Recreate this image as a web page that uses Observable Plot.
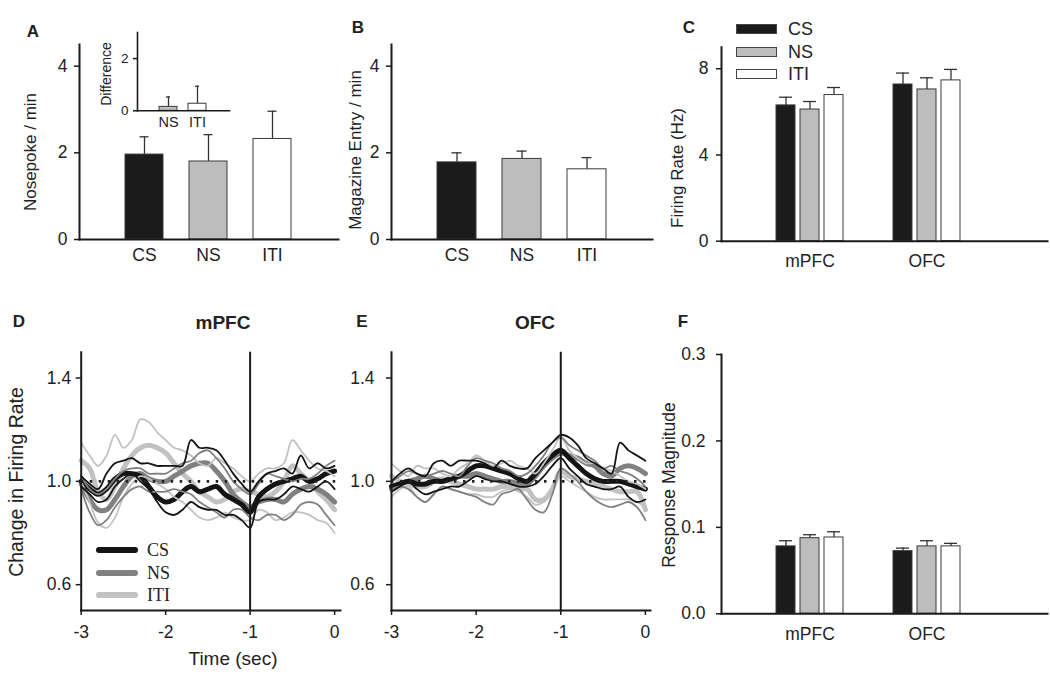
<!DOCTYPE html>
<html><head><meta charset="utf-8">
<script src="https://cdn.jsdelivr.net/npm/d3@7"></script>
<script src="https://cdn.jsdelivr.net/npm/@observablehq/plot@0.6"></script>
<style>
body{margin:0;background:#fff;}
#fig{position:relative;width:1050px;height:683px;overflow:hidden;font-family:"Liberation Sans",Arial,sans-serif;color:#222;background:#fff;}
.txt{position:absolute;white-space:nowrap;line-height:1;}
.pn{position:absolute;}
</style></head><body><div id="fig"></div>
<script>
// ---------- data ----------
const categories = ["CS", "NS", "ITI"];
const regions = ["mPFC", "OFC"];
// Panel A: nosepokes / min
const nosepokeMean = [1.96, 1.80, 2.32];
const nosepokeSem  = [0.41, 0.62, 0.64];
// Panel A inset: difference
const diffCats = ["NS", "ITI"];
const diffMean = [0.15, 0.27];
const diffSem  = [0.38, 0.67];
// Panel B: magazine entries / min
const magMean = [1.78, 1.86, 1.62];
const magSem  = [0.22, 0.18, 0.27];
// Panel C: firing rate (Hz) per region
const rateCS  = [6.30, 7.27], rateCSsem  = [0.38, 0.53];
const rateNS  = [6.11, 7.04], rateNSsem  = [0.37, 0.54];
const rateITI = [6.78, 7.46], rateITIsem = [0.35, 0.51];
// Panel F: response magnitude per region
const magnCS  = [0.078, 0.0725], magnCSsem  = [0.0065, 0.0035];
const magnNS  = [0.0875, 0.078], magnNSsem  = [0.0040, 0.0065];
const magnITI = [0.0883, 0.078], magnITIsem = [0.0066, 0.0035];
// Panels D/E: change in firing rate over time
const times = [-3.0,-2.9,-2.8,-2.7,-2.6,-2.5,-2.4,-2.3,-2.2,-2.1,-2.0,-1.9,-1.8,-1.7,-1.6,-1.5,-1.4,-1.3,-1.2,-1.1,-1.0,-0.9,-0.8,-0.7,-0.6,-0.5,-0.4,-0.3,-0.2,-0.1,0.0];
const mpfcCS      = [1.00,0.97,0.95,0.97,1.01,1.03,1.03,1.02,0.98,0.94,0.92,0.93,0.96,0.98,0.96,0.97,0.98,0.95,0.93,0.91,0.88,0.94,0.97,0.99,1.00,1.01,1.02,1.00,1.01,1.03,1.04];
const mpfcCSup    = [1.02,0.99,0.97,1.03,1.07,1.08,1.09,1.07,1.07,1.06,1.06,1.06,1.06,1.16,1.13,1.13,1.12,1.08,1.03,0.99,0.96,1.00,1.03,1.04,1.05,1.03,1.10,1.05,1.07,1.05,1.06];
const mpfcCSlo    = [0.98,0.95,0.92,0.93,0.98,1.01,1.03,1.00,0.97,0.92,0.88,0.87,0.89,0.92,0.90,0.89,0.89,0.87,0.87,0.85,0.82,0.92,0.93,0.93,0.95,0.98,0.97,0.96,0.98,1.00,0.97];
const mpfcNS      = [0.99,0.93,0.89,0.89,0.93,0.98,1.02,1.03,1.01,1.00,1.00,1.02,1.04,1.06,1.07,1.07,1.04,1.00,0.95,0.92,0.90,0.92,0.93,0.93,0.92,0.95,0.97,0.98,0.97,0.95,0.92];
const mpfcNSup    = [1.02,0.97,0.95,0.97,1.01,1.04,1.05,1.05,1.03,1.03,1.03,1.05,1.07,1.08,1.11,1.12,1.09,1.05,1.00,0.97,0.95,0.99,1.03,1.02,1.01,1.00,1.01,1.01,1.03,1.06,1.08];
const mpfcNSlo    = [0.97,0.88,0.83,0.85,0.90,0.94,0.97,0.98,0.96,0.96,0.96,0.97,0.96,0.95,0.92,0.90,0.88,0.86,0.89,0.89,0.86,0.85,0.87,0.87,0.85,0.87,0.91,0.92,0.91,0.87,0.83];
const mpfcITI     = [1.08,1.05,0.96,0.93,0.98,1.05,1.10,1.13,1.14,1.13,1.11,1.07,1.03,1.00,0.96,0.94,0.92,0.93,0.96,0.97,0.96,0.95,0.94,0.96,1.00,1.06,1.03,1.00,0.96,0.93,0.89];
const mpfcITIup   = [1.15,1.10,1.06,1.10,1.18,1.13,1.16,1.24,1.23,1.19,1.16,1.13,1.12,1.10,1.07,1.06,1.09,1.07,1.05,1.02,1.00,1.03,1.05,1.05,1.07,1.16,1.12,1.08,1.05,1.04,1.02];
const mpfcITIlo   = [1.00,0.92,0.84,0.82,0.86,0.94,0.99,1.02,1.01,0.99,0.97,0.94,0.92,0.89,0.86,0.85,0.86,0.88,0.86,0.85,0.85,0.89,0.88,0.85,0.86,0.88,0.88,0.87,0.85,0.84,0.80];
const ofcCS       = [0.98,0.99,1.00,0.99,0.99,1.00,1.00,1.01,1.02,1.04,1.06,1.06,1.05,1.04,1.03,1.01,1.00,1.03,1.07,1.10,1.12,1.09,1.06,1.03,1.01,1.00,1.00,1.00,0.99,0.98,0.97];
const ofcCSup     = [1.00,1.03,1.05,1.03,1.02,1.07,1.08,1.06,1.08,1.08,1.08,1.07,1.05,1.08,1.06,1.05,1.05,1.09,1.12,1.15,1.18,1.17,1.14,1.09,1.07,1.05,1.03,1.15,1.12,1.10,1.08];
const ofcCSlo     = [0.96,0.98,1.00,0.97,0.95,0.96,0.97,0.98,0.98,1.00,1.02,1.01,1.00,1.00,0.99,0.98,0.98,0.99,1.02,1.06,1.09,1.05,1.02,0.99,0.98,0.97,0.97,0.98,0.94,0.92,0.93];
const ofcNS       = [0.97,0.99,1.00,1.01,1.02,1.01,1.00,1.01,1.02,1.02,1.03,1.02,1.01,1.00,1.00,0.99,0.99,1.02,1.06,1.09,1.11,1.10,1.09,1.07,1.06,1.03,1.02,1.05,1.06,1.05,1.03];
const ofcNSup     = [1.00,1.02,1.04,1.03,1.02,1.03,1.04,1.03,1.02,1.06,1.09,1.08,1.07,1.05,1.04,1.02,1.03,1.06,1.10,1.15,1.17,1.14,1.12,1.10,1.08,1.05,1.06,1.04,1.03,1.01,0.98];
const ofcNSlo     = [0.97,0.98,0.97,0.94,0.92,0.95,0.98,0.97,0.96,0.95,0.94,0.92,0.91,0.95,0.96,0.97,0.93,0.89,0.88,0.95,1.05,1.03,1.00,0.96,0.93,0.91,0.90,0.91,0.92,0.90,0.85];
const ofcITI      = [1.02,1.00,0.99,0.98,0.98,1.00,1.01,1.00,0.99,0.98,0.97,0.97,0.97,0.98,0.98,0.97,0.97,0.93,0.93,0.97,1.04,1.02,1.01,1.00,0.99,0.98,0.97,0.96,0.96,0.96,0.89];
const ofcITIup    = [1.07,1.04,1.02,1.06,1.05,1.05,1.03,1.02,1.05,1.07,1.10,1.08,1.06,1.07,1.08,1.06,1.05,1.03,1.07,1.12,1.17,1.12,1.09,1.07,1.07,1.05,1.04,1.02,1.00,0.99,0.97];
const ofcITIlo    = [0.94,0.97,0.98,0.94,0.92,0.95,0.98,0.97,0.96,0.95,0.95,0.94,0.94,0.96,0.97,0.96,0.94,0.91,0.92,0.96,1.02,1.00,0.98,0.96,0.94,0.93,0.93,0.93,0.93,0.92,0.90];

// ---------- styles ----------
const FONT = '"Liberation Sans", Arial, sans-serif';
const barFill = {CS: "#1b1b1b", NS: "#bdbdbd", ITI: "#ffffff"};
const lineColor = {CS: "#141414", NS: "#808080", ITI: "#c2c2c2"};
const AX = "#1a1a1a";
const fig = document.getElementById("fig");
const plain = d => String(d);

function place(svg, left, top) {
  const d = document.createElement("div");
  d.className = "pn"; d.style.left = left + "px"; d.style.top = top + "px";
  d.appendChild(svg); fig.appendChild(d);
}
function txt(s, x, y, o = {}) {
  const d = document.createElement("div");
  d.className = "txt"; d.textContent = s;
  d.style.left = x + "px"; d.style.top = y + "px";
  d.style.fontSize = (o.size || 16) + "px";
  d.style.fontWeight = o.weight || "normal";
  d.style.fontFamily = o.family || FONT;
  d.style.color = o.color || "#222";
  d.style.transform = o.left ? "translate(0,-50%)" : "translate(-50%,-50%)" + (o.rotate ? " rotate(-90deg)" : "");
  fig.appendChild(d);
}
const svgStyle = (fs) => ({fontFamily: FONT, fontSize: fs + "px", color: "#222", background: "transparent", overflow: "visible"});

// ---------- simple bar chart (A, B, inset) ----------
function simpleBars(cats, means, sems, o) {
  const data = cats.map((c, i) => ({cat: c, v: means[i], e: means[i] + sems[i]}));
  return Plot.plot({
    width: o.width, height: o.height,
    marginLeft: o.ml, marginRight: o.mr, marginTop: o.mt, marginBottom: o.mb,
    style: svgStyle(o.fs),
    x: {domain: cats, paddingInner: o.pi, paddingOuter: o.po, align: 0.5},
    y: {domain: o.yDomain},
    color: {domain: categories, range: categories.map(c => barFill[c])},
    marks: [
      Plot.ruleX(data, {x: "cat", y1: "v", y2: "e", stroke: "#333", strokeWidth: 1.3}),
      Plot.tickY(data, {x: "cat", y: "e", stroke: "#333", strokeWidth: 1.3, insetLeft: o.capInset, insetRight: o.capInset}),
      Plot.barY(data, {x: "cat", y: "v", fill: "cat", stroke: "#3a3a3a", strokeWidth: 1}),
      Plot.frame({anchor: "left", stroke: AX, strokeWidth: o.axw}),
      Plot.frame({anchor: "bottom", stroke: AX, strokeWidth: o.axw}),
      Plot.axisY({ticks: o.yTicks, tickFormat: plain, tickSize: o.ts, tickPadding: o.ytp, label: null, stroke: AX, strokeWidth: 1.5, fontSize: o.fs}),
      Plot.axisX({tickSize: 0, tickPadding: o.xtp, label: null, fontSize: o.xfs || o.fs})
    ]
  });
}

// ---------- grouped bar chart (C, F) ----------
function groupedBars(series, o) {
  const offsets = {CS: -24, NS: 0, ITI: 24};
  const marks = [];
  for (const s of series) {
    const data = regions.map((r, i) => ({region: r, cond: s.name, v: s.mean[i], e: s.mean[i] + s.sem[i]}));
    marks.push(
      Plot.ruleX(data, {x: "region", y1: "v", y2: "e", dx: offsets[s.name], stroke: "#333", strokeWidth: 1.3}),
      Plot.tickY(data, {x: "region", y: "e", dx: offsets[s.name], stroke: "#333", strokeWidth: 1.3, insetLeft: 3, insetRight: 3}),
      Plot.barY(data, {x: "region", y: "v", dx: offsets[s.name], fill: "cond", stroke: "#3a3a3a", strokeWidth: 1})
    );
  }
  return Plot.plot({
    width: o.width, height: o.height,
    marginLeft: o.ml, marginRight: o.mr, marginTop: o.mt, marginBottom: o.mb,
    style: svgStyle(17.5),
    x: {domain: regions, paddingInner: 0.84, paddingOuter: 0.81, align: 0.417},
    y: {domain: o.yDomain},
    color: {domain: categories, range: categories.map(c => barFill[c])},
    marks: [
      ...marks,
      Plot.frame({anchor: "left", stroke: AX, strokeWidth: 2}),
      Plot.frame({anchor: "bottom", stroke: AX, strokeWidth: 2}),
      Plot.axisY({ticks: o.yTicks, tickSize: 5, tickPadding: o.ytp, label: null, tickFormat: o.fmt, stroke: AX, strokeWidth: 1.5}),
      Plot.axisX({tickSize: 0, tickPadding: o.xtp, label: null})
    ]
  });
}

// ---------- line chart (D, E) ----------
function linePanel(s, o) {
  const thick = [], thin = [];
  for (const c of ["ITI", "NS", "CS"]) {
    thick.push(Plot.lineY(s[c].mean, {x: times, curve: "catmull-rom", stroke: lineColor[c], strokeWidth: 5, strokeLinejoin: "round", strokeLinecap: "round"}));
    thin.push(Plot.lineY(s[c].up, {x: times, curve: "catmull-rom", stroke: lineColor[c], strokeWidth: 1.8, strokeLinejoin: "round"}));
    thin.push(Plot.lineY(s[c].lo, {x: times, curve: "catmull-rom", stroke: lineColor[c], strokeWidth: 1.8, strokeLinejoin: "round"}));
  }
  return Plot.plot({
    width: o.width, height: o.height,
    marginLeft: o.ml, marginRight: o.mr, marginTop: o.mt, marginBottom: o.mb,
    style: svgStyle(17.5),
    x: {domain: o.xDomain},
    y: {domain: [0.5, 1.5]},
    marks: [
      ...thick, ...thin,
      Plot.ruleY([1], {stroke: "#222", strokeWidth: 2.6, strokeDasharray: "2.5,6.5"}),
      Plot.ruleX([-1], {stroke: AX, strokeWidth: 2}),
      Plot.frame({anchor: "left", stroke: AX, strokeWidth: 2}),
      Plot.frame({anchor: "bottom", stroke: AX, strokeWidth: 2}),
      Plot.axisY({ticks: [0.6, 1.0, 1.4], tickFormat: d3.format(".1f"), tickSize: 5, tickPadding: o.ytp, label: null, stroke: AX, strokeWidth: 1.5}),
      Plot.axisX({ticks: [-3, -2, -1, 0], tickFormat: plain, tickSize: 5, tickPadding: 10, label: null, stroke: AX, strokeWidth: 1.5})
    ]
  });
}

// ---------- Panel A ----------
place(simpleBars(categories, nosepokeMean, nosepokeSem, {
  width: 345, height: 290, ml: 79, mr: 7, mt: 44, mb: 51, fs: 17.5, pi: 0.4, po: 0.7,
  yDomain: [0, 4.5], yTicks: [0, 2, 4], ts: 5, ytp: 7, xtp: 9, capInset: 14.5, axw: 2
}), 0, 0);
// inset
place(simpleBars(diffCats, diffMean, diffSem, {
  width: 145, height: 120, ml: 47, mr: 6, mt: 12, mb: 29.7, fs: 13.5, xfs: 14.5, pi: 0.367, po: 0.717,
  yDomain: [0, 3], yTicks: [0, 2], ts: 4, ytp: 5, xtp: 6, capInset: 7, axw: 1.6
}), 90, 20);
txt("Nosepoke / min", 30, 152, {size: 17, rotate: true});
txt("Difference", 106, 74, {size: 14, rotate: true});
txt("A", 33, 31, {size: 17, weight: "bold"});

// ---------- Panel B ----------
place(simpleBars(categories, magMean, magSem, {
  width: 310, height: 290, ml: 46, mr: 3, mt: 44, mb: 51, fs: 17.5, pi: 0.4, po: 0.7,
  yDomain: [0, 4.5], yTicks: [0, 2, 4], ts: 5, ytp: 7, xtp: 9, capInset: 14.5, axw: 2
}), 345, 0);
txt("Magazine Entry / min", 355, 150, {size: 17, rotate: true});
txt("B", 358, 27, {size: 17, weight: "bold"});

// ---------- Panel C ----------
place(groupedBars([
  {name: "CS", mean: rateCS, sem: rateCSsem},
  {name: "NS", mean: rateNS, sem: rateNSsem},
  {name: "ITI", mean: rateITI, sem: rateITIsem}
], {width: 395, height: 290, ml: 66, mr: 3, mt: 46.7, mb: 49.3, yDomain: [0, 9], yTicks: [0, 4, 8], fmt: plain, ytp: 8, xtp: 13}), 655, 0);
txt("Firing Rate (Hz)", 677, 168, {size: 17, rotate: true});
txt("C", 689, 27, {size: 17, weight: "bold"});
// legend C
[["CS", 24.3], ["NS", 46.7], ["ITI", 68.9]].forEach(([c, y]) => {
  const b = document.createElement("div");
  b.style.cssText = `position:absolute;left:736px;top:${y}px;width:39px;height:8px;background:${barFill[c]};border:1px solid #444;`;
  fig.appendChild(b);
  txt(c, 788, y + 5, {size: 18, left: true});
});

// ---------- Panel D ----------
place(linePanel({
  CS: {mean: mpfcCS, up: mpfcCSup, lo: mpfcCSlo},
  NS: {mean: mpfcNS, up: mpfcNSup, lo: mpfcNSlo},
  ITI: {mean: mpfcITI, up: mpfcITIup, lo: mpfcITIlo}
}, {width: 345, height: 383, ml: 80.7, mr: 5, mt: 51.7, mb: 73, xDomain: [-3, 0.07], ytp: 5}), 0, 300);
txt("Change in Firing Rate", 17, 482, {size: 19.5, rotate: true});
txt("Time (sec)", 233, 658, {size: 19, });
txt("D", 19, 321, {size: 17, weight: "bold"});
txt("mPFC", 223, 322, {size: 19, weight: "bold"});
// legend D
[["CS", 550], ["NS", 573], ["ITI", 595]].forEach(([c, y]) => {
  const l = document.createElement("div");
  l.style.cssText = `position:absolute;left:96px;top:${y - 3}px;width:42px;height:6px;border-radius:3px;background:${lineColor[c]};`;
  fig.appendChild(l);
  txt(c, 147, y, {size: 18, left: true, family: '"Liberation Serif", "Times New Roman", serif'});
});

// ---------- Panel E ----------
place(linePanel({
  CS: {mean: ofcCS, up: ofcCSup, lo: ofcCSlo},
  NS: {mean: ofcNS, up: ofcNSup, lo: ofcNSlo},
  ITI: {mean: ofcITI, up: ofcITIup, lo: ofcITIlo}
}, {width: 310, height: 383, ml: 46, mr: 5, mt: 51.7, mb: 73, xDomain: [-3, 0.06], ytp: 12}), 345, 300);
txt("E", 362, 321, {size: 17, weight: "bold"});
txt("OFC", 535, 322, {size: 19, weight: "bold"});

// ---------- Panel F ----------
place(groupedBars([
  {name: "CS", mean: magnCS, sem: magnCSsem},
  {name: "NS", mean: magnNS, sem: magnNSsem},
  {name: "ITI", mean: magnITI, sem: magnITIsem}
], {width: 395, height: 383, ml: 66, mr: 3, mt: 54, mb: 69.7, yDomain: [0, 0.3], yTicks: [0, 0.1, 0.2, 0.3], fmt: d3.format(".1f"), ytp: 11, xtp: 14}), 655, 300);
txt("Response Magnitude", 670, 485, {size: 17.5, rotate: true});
txt("F", 683, 321, {size: 17, weight: "bold"});
</script></body></html>
